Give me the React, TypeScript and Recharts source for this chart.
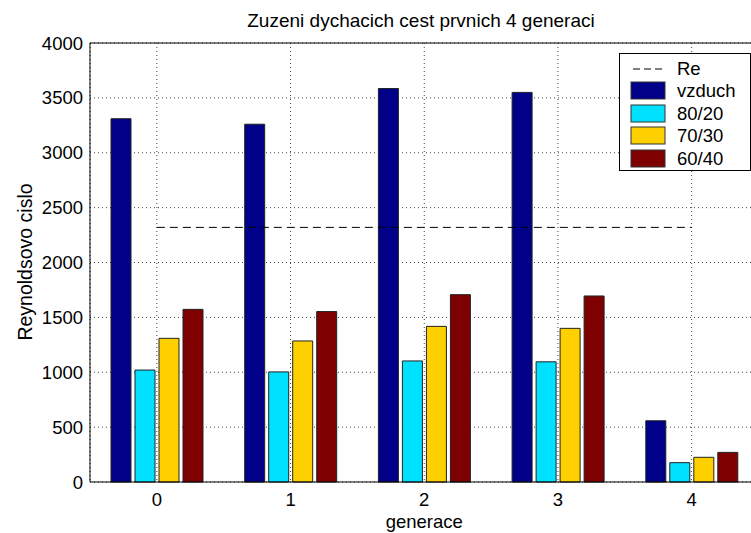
import React from 'react';
import {
  ComposedChart,
  Bar,
  Line,
  XAxis,
  YAxis,
  CartesianGrid,
  ReferenceLine,
  Legend,
  Label,
} from 'recharts';

// generace 0..4
const categories = ['0', '1', '2', '3', '4'];
const vzduch = [3310, 3260, 3585, 3550, 558];
const mix8020 = [1020, 1003, 1103, 1095, 176];
const mix7030 = [1309, 1285, 1418, 1400, 225];
const mix6040 = [1573, 1553, 1707, 1695, 270];
// kriticke Re (prechod do turbulence)
const reLimit = [2320, 2320, 2320, 2320, 2320];
const yTicks = [0, 500, 1000, 1500, 2000, 2500, 3000, 3500, 4000];

const barSeries = [
  { key: 'vzduch', name: 'vzduch', color: '#000088' },
  { key: 'm8020', name: '80/20', color: '#00E0FF' },
  { key: 'm7030', name: '70/30', color: '#FFD000' },
  { key: 'm6040', name: '60/40', color: '#7F0000' },
];

const data = categories.map((g, i) => ({
  g,
  vzduch: vzduch[i],
  m8020: mix8020[i],
  m7030: mix7030[i],
  m6040: mix6040[i],
  re: reLimit[i],
}));

const FONT = '"Liberation Sans", Arial, Helvetica, sans-serif';

function LegendBox() {
  return (
    <div
      style={{
        width: 132,
        height: 118,
        border: '1px solid #000',
        background: '#fff',
        fontFamily: FONT,
        fontSize: 18.5,
        color: '#000',
        boxSizing: 'border-box',
        paddingTop: 4,
      }}
    >
      <div style={{ display: 'flex', alignItems: 'center', height: 22 }}>
        <svg width={57} height={22}>
          <line x1={13} y1={11} x2={46} y2={11} stroke="#000" strokeDasharray="7 4" />
        </svg>
        <span>Re</span>
      </div>
      {barSeries.map((s) => (
        <div key={s.key} style={{ display: 'flex', alignItems: 'center', height: 22.5 }}>
          <svg width={57} height={22}>
            <rect x={11} y={2} width={34} height={17} fill={s.color} stroke="#333" />
          </svg>
          <span>{s.name}</span>
        </div>
      ))}
    </div>
  );
}

function YTitle() {
  return (
    <text
      x={32}
      y={262}
      transform="rotate(-90, 32, 262)"
      textAnchor="middle"
      fontFamily={FONT}
      fontSize={19.5}
      fill="#000"
    >
      Reynoldsovo cislo
    </text>
  );
}

export default function App() {
  return (
    <div
      style={{
        position: 'fixed',
        left: 0,
        top: 0,
        width: 751,
        height: 533,
        overflow: 'hidden',
        background: '#fff',
      }}
    >
      <svg style={{ position: 'absolute', left: 0, top: 0 }} width={751} height={40}>
        <text x={421} y={27} textAnchor="middle" fontFamily={FONT} fontSize={19} fill="#000">
          Zuzeni dychacich cest prvnich 4 generaci
        </text>
      </svg>
      <div style={{ position: 'absolute', left: 0, top: 0 }}>
        <ComposedChart
          width={770}
          height={533}
          data={data}
          margin={{ top: 43, right: 11.5, bottom: 0, left: 10 }}
          barSize={20}
          barGap={4}
        >
          <CartesianGrid stroke="#444" strokeDasharray="1 3" />
          <XAxis
            dataKey="g"
            height={51}
            tickLine={false}
            tickSize={0}
            tickMargin={11}
            axisLine={{ stroke: '#000' }}
            tick={{ fill: '#000', fontFamily: FONT, fontSize: 18.5 }}
          >
            <Label
              value="generace"
              position="insideBottom"
              offset={5}
              fill="#000"
              fontFamily={FONT}
              fontSize={18.5}
            />
          </XAxis>
          <YAxis
            width={80}
            domain={[0, 4000]}
            ticks={yTicks}
            interval={0}
            tickLine={false}
            tickSize={0}
            tickMargin={7}
            axisLine={{ stroke: '#000' }}
            tick={{ fill: '#000', fontFamily: FONT, fontSize: 18.5 }}
          >
            <Label content={<YTitle />} />
          </YAxis>
          <ReferenceLine y={4000} stroke="#000" />
          {barSeries.map((s) => (
            <Bar
              key={s.key}
              dataKey={s.key}
              name={s.name}
              fill={s.color}
              stroke="#222"
              strokeWidth={1}
              isAnimationActive={false}
            />
          ))}
          <Line
            dataKey="re"
            name="Re"
            stroke="#000"
            strokeWidth={1}
            strokeDasharray="8 5"
            dot={false}
            activeDot={false}
            isAnimationActive={false}
          />
          <Legend
            layout="vertical"
            align="center"
            verticalAlign="middle"
            wrapperStyle={{ position: 'absolute', left: 619, top: 53, width: 132 }}
            content={() => <LegendBox />}
          />
        </ComposedChart>
      </div>
    </div>
  );
}
